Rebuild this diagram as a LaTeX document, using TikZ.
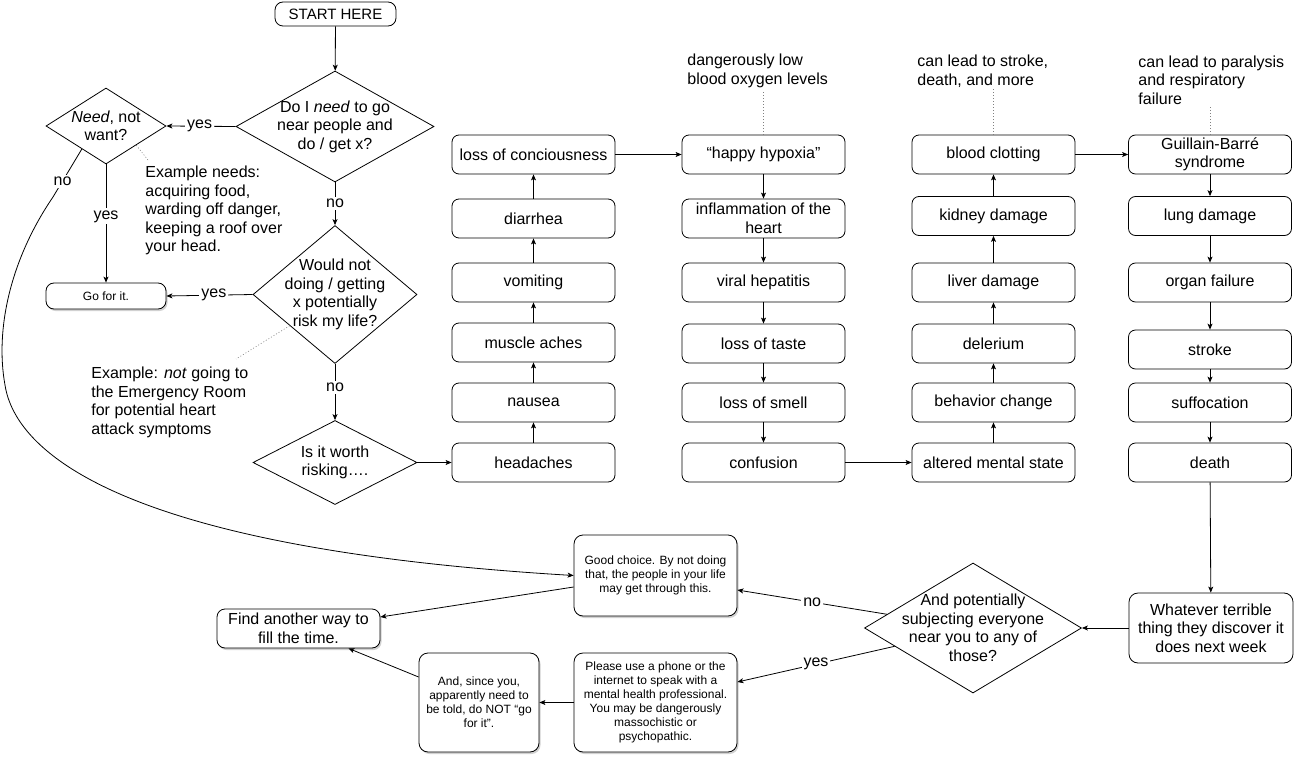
\documentclass[tikz,border=0pt]{standalone}
\usepackage{fontspec}
\setmainfont{Liberation Sans}
\usetikzlibrary{shapes.geometric,arrows.meta,calc,shadows}
\begin{document}
\begin{tikzpicture}[x=1pt,y=-1pt,
  font=\fontsize{16}{18.5}\selectfont,
  line width=0.8pt,
  arr/.style={-{Stealth[length=6pt,width=5pt,inset=1.5pt]}},
  box/.style={draw, rounded corners=7pt, minimum width=163pt, minimum height=39pt, inner sep=0pt, align=center},
  sbox/.style={draw, fill=white, rounded corners=9pt, inner sep=0pt, align=center,
     font=\fontsize{12}{14}\selectfont,
     drop shadow={shadow xshift=1.5pt, shadow yshift=-2pt, fill=black, opacity=0.18}},
  dia/.style={draw, diamond, inner sep=0pt},
  txt/.style={align=center, inner sep=0pt},
  ann/.style={align=left, inner sep=2pt, anchor=west},
  lbl/.style={fill=white, inner sep=2pt},
  dotline/.style={line width=0.6pt, gray, dash pattern=on 1pt off 2pt},
]
\useasboundingbox (0,0) rectangle (1296,757);

% --- left decision area ---
\node[draw, rounded corners=8pt, minimum width=121pt, minimum height=24pt, inner sep=0pt,
      font=\fontsize{15}{17}\selectfont] (start) at (335.5,14) {START HERE};
\node[dia, minimum width=198pt, minimum height=111pt] (d1) at (335,126.5) {};
\node[txt] at (d1) {Do I \emph{need} to go\\near people and\\do / get x?};
\node[dia, minimum width=120pt, minimum height=76pt] (need) at (106,126) {};
\node[txt] at (need) {\emph{Need}, not\\want?};
\node[sbox, rounded corners=8pt, minimum width=120pt, minimum height=26pt] (go) at (106,296) {Go for it.};
\node[dia, minimum width=164pt, minimum height=138pt] (d2) at (335,294.5) {};
\node[txt] at (d2) {Would not\\doing / getting\\x potentially\\risk my life?};
\node[dia, minimum width=164pt, minimum height=84pt] (d3) at (335,462.5) {};
\node[txt] at (d3) {Is it worth\\risking….};

\node[ann] (exneeds) at (143,210.5) {\fontsize{16}{18.3}\selectfont Example needs:\\acquiring food,\\warding off danger,\\keeping a roof over\\your head.};
\node[ann] (exnot) at (89,402.5) {Example: \emph{not} going to\\the Emergency Room\\for potential heart\\attack symptoms};
\coordinate (exneedsTip) at (148,160);
\coordinate (exnotTip) at (236,359);

% --- column 1 (upwards) ---
\node[box] (loc) at (533.5,154.5) {loss of conciousness};
\node[box] (dia1) at (533.5,218.5) {diarrhea};
\node[box] (vom) at (533.5,282.5) {vomiting};
\node[box] (mus) at (533.5,342.5) {muscle aches};
\node[box] (nau) at (533.5,402.5) {nausea};
\node[box] (hea) at (533.5,462.5) {headaches};
% --- column 2 (downwards) ---
\node[box] (hh) at (763.5,154.5) {“happy hypoxia”};
\node[box] (inf) at (763.5,218.5) {inflammation of the\\heart};
\node[box] (vh) at (763.5,282.5) {viral hepatitis};
\node[box] (lt) at (763.5,343.5) {loss of taste};
\node[box] (ls) at (763.5,402.5) {loss of smell};
\node[box] (con) at (763.5,462.5) {confusion};
% --- column 3 (upwards) ---
\node[box] (bc) at (993.5,154.5) {blood clotting};
\node[box] (kd) at (993.5,216) {kidney damage};
\node[box] (ld) at (993.5,282.5) {liver damage};
\node[box] (del) at (993.5,343.5) {delerium};
\node[box] (bch) at (993.5,402.5) {behavior change};
\node[box] (ams) at (993.5,462.5) {altered mental state};
% --- column 4 (downwards) ---
\node[box] (gb) at (1210,154.5) {Guillain-Barré\\syndrome};
\node[box] (lung) at (1210,216) {lung damage};
\node[box] (of) at (1210,282.5) {organ failure};
\node[box] (str) at (1210,349.5) {stroke};
\node[box] (suf) at (1210,402.5) {suffocation};
\node[box] (dea) at (1210,462.5) {death};

% annotations above columns
\node[ann] (a1) at (685,71) {dangerously low\\blood oxygen levels};
\node[ann] (a2) at (915,71) {can lead to stroke,\\death, and more};
\node[ann] (a3) at (1136,80) {can lead to paralysis\\and respiratory\\failure};

% --- bottom area ---
\node[box, rounded corners=9pt, minimum width=164pt, minimum height=70pt] (what) at (1211,628) {Whatever terrible\\thing they discover it\\does next week};
\node[dia, minimum width=217pt, minimum height=130pt] (ap) at (973,628) {};
\node[txt] at (ap) {And potentially\\subjecting everyone\\near you to any of\\those?};
\node[sbox, minimum width=163pt, minimum height=81pt] (gc) at (655.5,575.5) {Good choice. By not doing\\that, the people in your life\\may get through this.};
\node[sbox, minimum width=163pt, minimum height=99pt] (pl) at (655.5,702.5) {Please use a phone or the\\internet to speak with a\\mental health professional.\\You may be dangerously\\massochistic or\\psychopathic.};
\node[sbox, minimum width=120pt, minimum height=99pt] (and) at (479,702.5) {And, since you,\\apparently need to\\be told, do NOT “go\\for it”.};
\node[sbox, rounded corners=8pt, minimum width=163pt, minimum height=39pt,
      font=\fontsize{16}{18.5}\selectfont] (find) at (298.5,628.5) {Find another way to\\fill the time.};

% --- connectors: decisions ---
\draw[arr] (start) -- (d1);
\draw[arr] (d1) -- node[lbl]{no} (d2);
\draw[arr] (d2) -- node[lbl,pos=0.42]{no} (d3);
\draw[arr] (d1.west) -- node[lbl,pos=0.52]{yes} (need.east);
\draw[arr] (need.south) -- node[lbl,pos=0.44]{yes} (go.north);
\draw[arr] (d2.west) -- node[lbl,pos=0.45]{yes} (go.east);
\draw[arr] (d3.east) -- (hea.west);
\draw[arr] ($(need.west)!0.6!(need.south)$) -- node[lbl,pos=0.67]{no} (53,197)
   .. controls (10,260) and (-5,330) .. (5,385)
   .. controls (15,450) and (115,548) .. (gc.west);

% dotted annotation lines
\draw[dotline] ($(need.east)!0.5!(need.south)$) -- (exneedsTip);
\draw[dotline] ($(d2.west)!0.45!(d2.south)$) -- (exnotTip);
\draw[dotline] (hh.north) -- (hh.north |- a1.south);
\draw[dotline] (bc.north) -- (bc.north |- a2.south);
\draw[dotline] (gb.north) -- (gb.north |- a3.south);

% columns
\draw[arr] (hea) -- (nau);
\draw[arr] (nau) -- (mus);
\draw[arr] (mus) -- (vom);
\draw[arr] (vom) -- (dia1);
\draw[arr] (dia1) -- (loc);
\draw[arr] (loc) -- (hh);
\draw[arr] (hh) -- (inf);
\draw[arr] (inf) -- (vh);
\draw[arr] (vh) -- (lt);
\draw[arr] (lt) -- (ls);
\draw[arr] (ls) -- (con);
\draw[arr] (con) -- (ams);
\draw[arr] (ams) -- (bch);
\draw[arr] (bch) -- (del);
\draw[arr] (del) -- (ld);
\draw[arr] (ld) -- (kd);
\draw[arr] (kd) -- (bc);
\draw[arr] (bc) -- (gb);
\draw[arr] (gb) -- (lung);
\draw[arr] (lung) -- (of);
\draw[arr] (of) -- (str);
\draw[arr] (str) -- (suf);
\draw[arr] (suf) -- (dea);
\draw[arr] (dea) -- (what);

% bottom connectors
\draw[arr] (what) -- (ap);
\draw[arr] ($(ap.west)!0.21!(ap.north)$) -- node[lbl]{no} ($(gc.east)+(0,14.5)$);
\draw[arr] ($(ap.west)!0.28!(ap.south)$) -- node[lbl]{yes} ($(pl.east)+(0,-20.5)$);
\draw[arr] ($(gc.west)+(0,11.5)$) -- ($(find.east)+(0,-11.5)$);
\draw[arr] (pl.west) -- (and.east);
\draw[arr] ($(and.west)+(0,-25.5)$) -- ($(find.south)+(50,0)$);
\end{tikzpicture}
\end{document}
